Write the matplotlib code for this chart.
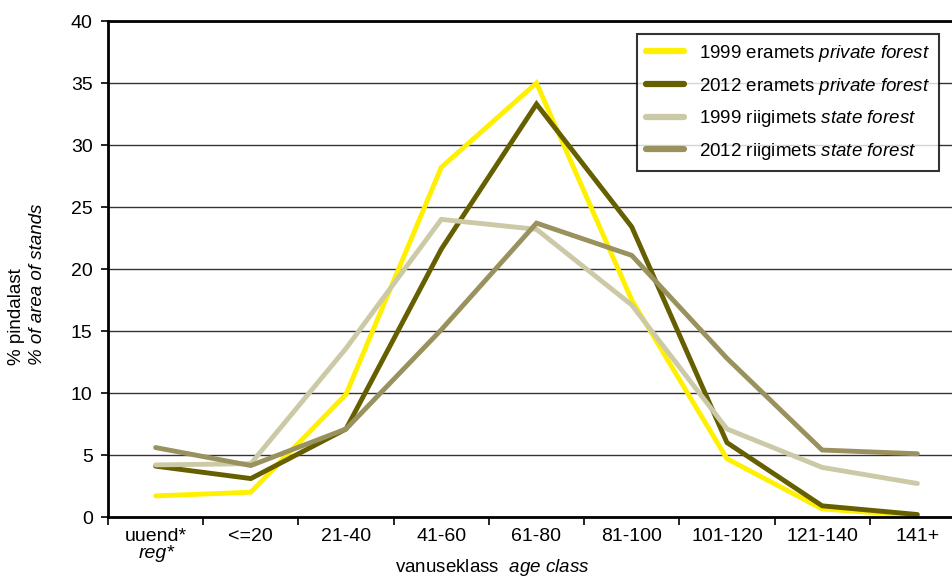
import matplotlib.pyplot as plt
import numpy as np

plt.rcParams['font.family'] = ['Liberation Sans', 'DejaVu Sans']
plt.rcParams['mathtext.fontset'] = 'custom'
plt.rcParams['mathtext.rm'] = 'Liberation Sans'
plt.rcParams['mathtext.it'] = 'Liberation Sans:italic'

# age classes
classes = ['uuend*', '<=20', '21-40', '41-60', '61-80', '81-100', '101-120', '121-140', '141+']

private_1999 = [1.7, 2.0, 9.9, 28.2, 35.0, 17.5, 4.7, 0.65, 0.1]
private_2012 = [4.1, 3.1, 7.1, 21.6, 33.3, 23.4, 6.0, 0.9, 0.2]
state_1999 = [4.2, 4.3, 13.6, 24.0, 23.2, 17.1, 7.1, 4.0, 2.7]
state_2012 = [5.6, 4.15, 7.1, 15.1, 23.7, 21.1, 12.8, 5.4, 5.1]

labels = [r'1999 eramets $\mathit{private\ forest}$',
          r'2012 eramets $\mathit{private\ forest}$',
          r'1999 riigimets $\mathit{state\ forest}$',
          r'2012 riigimets $\mathit{state\ forest}$']
colors = ['#FFF000', '#655F00', '#CCC9A6', '#99925E']

fs = 14

fig = plt.figure(figsize=(9.53, 5.77), dpi=100)
ax = fig.add_axes([108/953, 1 - 517/577, (965 - 108)/953, (517 - 21)/577])

x = np.arange(len(classes))
for vals, lab, c in zip([private_1999, private_2012, state_1999, state_2012], labels, colors):
    ax.plot(x, vals, color=c, lw=3.5, label=lab, solid_capstyle='round', solid_joinstyle='miter')

ax.set_xlim(-0.5, len(classes) - 0.5)
ax.set_ylim(0, 40)
ax.set_yticks(np.arange(0, 41, 5))
ax.yaxis.grid(True, color='#333333', lw=1)
ax.set_axisbelow(True)

ax.set_xticks(np.arange(-0.5, len(classes), 1))
ax.set_xticklabels([])
ax.set_xticks(x, minor=True)
ax.set_xticklabels(classes, minor=True)
ax.tick_params(axis='x', which='major', length=6, width=1.2, direction='out')
ax.tick_params(axis='x', which='minor', length=0, pad=8, labelsize=fs)
ax.tick_params(axis='y', length=5, width=1.2, direction='out', labelsize=fs, pad=6)
fig.text(157/953, 1 - 554/577, 'reg*', style='italic', fontsize=fs, ha='center', va='center')

for s in ['left', 'bottom', 'top']:
    ax.spines[s].set_linewidth(2)
    ax.spines[s].set_color('black')
ax.spines['right'].set_visible(False)

fig.text(17/953, 1 - 365/577, '% pindalast', rotation=90, ha='center', va='bottom', fontsize=13.5)
fig.text(38/953, 1 - 365/577, '% of area of stands', rotation=90, ha='center', va='bottom',
         fontsize=13.5, style='italic')
fig.text(492/953, 1 - 568/577, r'vanuseklass  $\mathit{age\ class}$', ha='center', va='center',
         fontsize=13.5)

leg = ax.legend(loc='upper left', bbox_to_anchor=(637/953, 1 - 34/577), bbox_transform=fig.transFigure,
                borderaxespad=0, fontsize=13.5, frameon=True, fancybox=False, handlelength=2.0,
                handletextpad=0.85, labelspacing=0.62, borderpad=0.48)
leg.get_frame().set_edgecolor('black')
leg.get_frame().set_linewidth(1.5)
for h in leg.get_lines():
    h.set_linewidth(4.5)
    h.set_solid_capstyle('round')

fig.savefig('out.png', dpi=100)
